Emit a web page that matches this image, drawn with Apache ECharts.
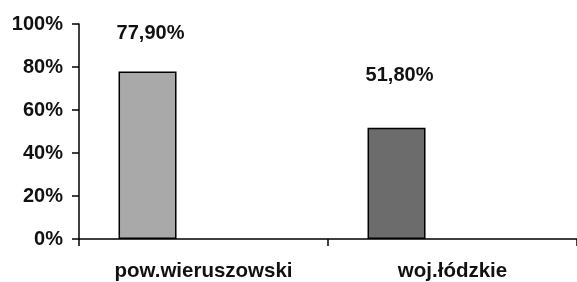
<!DOCTYPE html>
<html>
<head>
<meta charset="utf-8">
<script src="https://cdn.jsdelivr.net/npm/echarts@6/dist/echarts.min.js"></script>
<style>html,body{margin:0;padding:0;background:#fff;}#c{width:577px;height:282px;}</style>
</head>
<body>
<div id="c"></div>
<script>
var categories = ['pow.wieruszowski', 'woj.łódzkie'];
var values = [77.9, 51.8];
var yTicks = [0, 20, 40, 60, 80, 100];
var barColors = ['#a9a9a9', '#6c6c6c'];
var labelDistances = [28, 42];

var chart = echarts.init(document.getElementById('c'), null, {renderer: 'canvas'});
var font = '"Liberation Sans", Arial, sans-serif';
var seriesData = values.map(function (v, i) {
  return {
    value: v,
    itemStyle: {color: barColors[i]},
    label: {distance: labelDistances[i]}
  };
});
chart.setOption({
  animation: false,
  backgroundColor: '#ffffff',
  grid: {left: 79, top: 24, bottom: 42, right: -8, containLabel: false},
  xAxis: {
    type: 'category',
    data: categories,
    axisLine: {lineStyle: {color: '#000', width: 1.5}},
    axisTick: {show: true, length: 7, lineStyle: {color: '#000', width: 1.5}, alignWithLabel: false},
    axisLabel: {color: '#111', fontSize: 20.5, fontWeight: 'bold', fontFamily: font, margin: 22}
  },
  yAxis: {
    type: 'value',
    min: yTicks[0],
    max: yTicks[yTicks.length - 1],
    interval: 20,
    axisLine: {show: true, lineStyle: {color: '#000', width: 1.5}},
    axisTick: {show: true, length: 7, lineStyle: {color: '#000', width: 1.5}},
    splitLine: {show: false},
    axisLabel: {color: '#111', fontSize: 20, fontWeight: 'bold', fontFamily: font, margin: 16,
      formatter: function (v) { return v + '%'; }}
  },
  series: [
    {
      type: 'bar',
      data: seriesData,
      barWidth: 58,
      barGap: '93%',
      itemStyle: {borderColor: '#000', borderWidth: 1.5},
      label: {
        show: true,
        position: 'top',
        color: '#111',
        fontSize: 20,
        fontWeight: 'bold',
        fontFamily: font,
        offset: [3, 0],
        formatter: function (p) { return p.value.toFixed(2).replace('.', ',') + '%'; }
      }
    },
    {
      type: 'bar',
      data: [null, null],
      barWidth: 58,
      silent: true
    }
  ]
});
</script>
</body>
</html>
